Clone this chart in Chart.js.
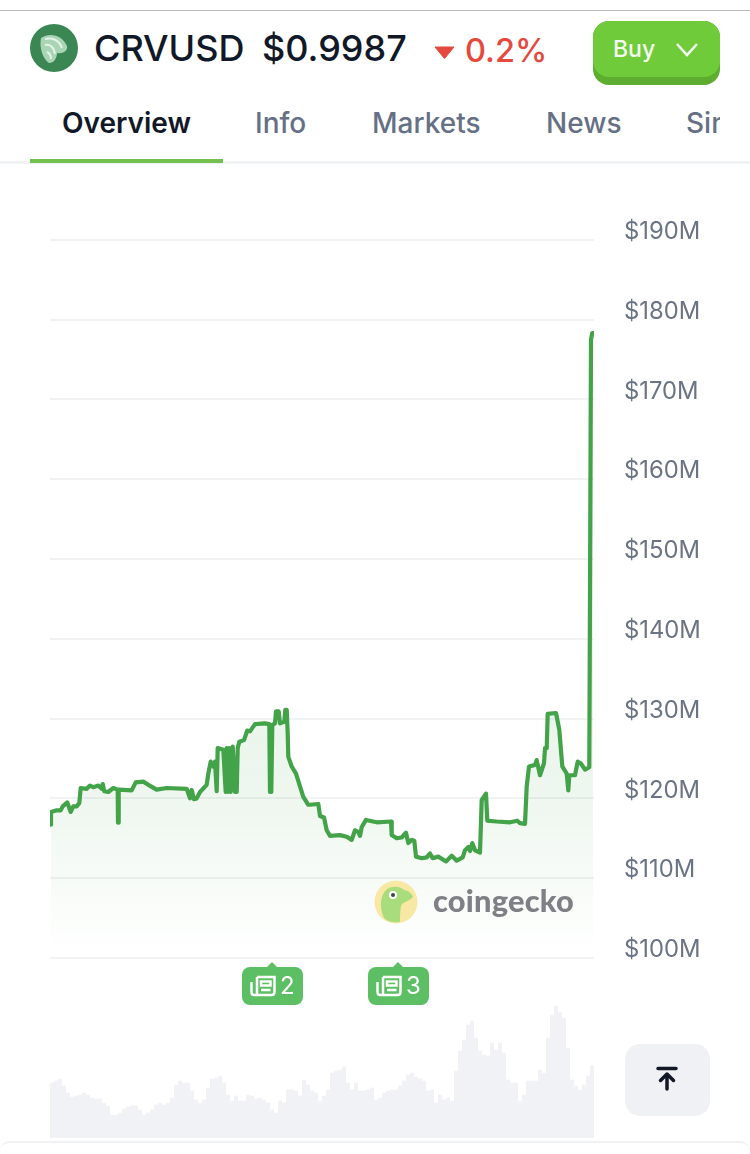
<!DOCTYPE html>
<html>
<head>
<meta charset="utf-8">
<script src="https://cdn.jsdelivr.net/npm/chart.js@4"></script>
<style>
  html, body { margin: 0; padding: 0; background: #fff; }
  body { width: 750px; height: 1154px; overflow: hidden; position: relative; font-family: Inter, "Noto Sans", sans-serif; }
  .abs { position: absolute; white-space: nowrap; }
  #market { position: absolute; left: 0; top: 0; }
  .tab { position: absolute; top: 105px; font-size: 28px; line-height: 36px; font-weight: 500; color: #667085; }
  .news { position: absolute; top: 967px; height: 38px; width: 61px; background: #5cbf64; border-radius: 8px; color: #fff; font-size: 24px; line-height: 38px; }
  .news::before { content: ""; position: absolute; left: 25px; top: -5px; border-left: 5px solid transparent; border-right: 5px solid transparent; border-bottom: 5px solid #5cbf64; }
  .news svg { position: absolute; left: 8px; top: 8px; }
  .news span { position: absolute; left: 38px; top: 0; }
</style>
</head>
<body>
<div class="abs" style="left:0;top:10px;width:750px;height:1px;background:#b9b9bb"></div>

<svg class="abs" style="left:30px;top:24px" width="48" height="48" viewBox="0 0 48 48">
  <circle cx="24" cy="24" r="24" fill="#3b8753"/>
  <path d="M11 14 C20 8 32 11 37 22 C38 27 33 30 27 29 C27 34 24 39 19 39 C13 35 9 24 11 14 Z" fill="#a9d5b5"/>
  <path d="M15 15 C22 13 29 16 32 24 M15 21 C20 20 24 23 25 30 M17 28 C19 29 21 31 21 35" fill="none" stroke="#e4f3e8" stroke-width="2"/>
</svg>
<div class="abs" style="left:94px;top:27px;font-size:36px;line-height:42px;font-weight:500;color:#111827">CRVUSD</div>
<div class="abs" style="left:262px;top:27px;font-size:36px;line-height:42px;font-weight:500;color:#111827">$0.9987</div>
<svg class="abs" style="left:434px;top:46px" width="21" height="13" viewBox="0 0 21 13"><path d="M1 1 H20 L11 12 Q10.500 12.600 10 12 Z" fill="#e5493d" stroke="#e5493d" stroke-linejoin="round"/></svg>
<div class="abs" style="left:465px;top:31px;font-size:32.5px;line-height:40px;font-weight:500;color:#e5493d">0.2%</div>

<div class="abs" style="left:593px;top:21px;width:127px;height:64px;border-radius:16px;background:#5dad30"></div>
<div class="abs" style="left:593px;top:21px;width:127px;height:56px;border-radius:16px;background:#70cb3a"></div>
<div class="abs" style="left:613px;top:33px;font-size:23px;line-height:32px;font-weight:500;color:#f4fbf0">Buy</div>
<svg class="abs" style="left:675px;top:42px" width="24" height="16" viewBox="0 0 24 16"><path d="M2 2 L12 13 L22 2" fill="none" stroke="#f4fbf0" stroke-width="2.600"/></svg>

<div class="abs" style="left:0;top:161px;width:750px;height:3px;background:#f1f2f4"></div>
<div class="abs" style="left:30px;top:159px;width:193px;height:4px;background:#74c04e"></div>
<div class="tab" style="left:62px;color:#111827;font-weight:600">Overview</div>
<div class="tab" style="left:255px">Info</div>
<div class="tab" style="left:372px">Markets</div>
<div class="tab" style="left:546px">News</div>
<div class="tab" style="left:686px;width:34px;overflow:hidden">Simi</div>

<div class="abs" style="left:0;top:1141px;width:750px;height:14px;border-top:2px solid #f0f1f3;border-radius:10px 10px 0 0;box-sizing:border-box"></div>

<canvas id="market" width="750" height="1154"></canvas>

<svg class="abs" style="left:374px;top:880px" width="44" height="44" viewBox="0 0 44 44">
  <circle cx="22" cy="22" r="21.500" fill="#f8e8a4"/>
  <path d="M10 38 C5 27 6 15 13 9 C20 5 27 7 30 10 C35 11 38 14 39 17 C34 22 28 22 27 26 C26 31 26 36 26 42 C20 43 14 42 10 38 Z" fill="#a9dc7c"/>
  <circle cx="19" cy="15" r="4" fill="#fff"/><circle cx="19" cy="15" r="2" fill="#3d4a3d"/>
</svg>
<div class="abs" style="left:433px;top:882px;font-family:Lato,Inter,sans-serif;font-size:30.8px;line-height:38px;font-weight:900;letter-spacing:.2px;color:#7d8085">coingecko</div>

<div class="news" style="left:242px">
  <svg width="26" height="22" viewBox="0 0 26 22"><path d="M7 2 H24.500 V17 Q24.500 20 21.500 20 H4 Q1.500 20 1.500 17 V7 M7 2 V20 M11 6.500 H20.500 V10.500 H11 Z M11 15 H20.500" fill="none" stroke="#fff" stroke-width="2.500"/></svg>
  <span>2</span>
</div>
<div class="news" style="left:368px">
  <svg width="26" height="22" viewBox="0 0 26 22"><path d="M7 2 H24.500 V17 Q24.500 20 21.500 20 H4 Q1.500 20 1.500 17 V7 M7 2 V20 M11 6.500 H20.500 V10.500 H11 Z M11 15 H20.500" fill="none" stroke="#fff" stroke-width="2.500"/></svg>
  <span>3</span>
</div>

<div class="abs" style="left:625px;top:1044px;width:85px;height:72px;border-radius:15px;background:#f0f1f5"></div>
<svg class="abs" style="left:655px;top:1066px" width="24" height="28" viewBox="0 0 24 28"><path d="M3 2.500 H21 M12 23 V8.500 M5.500 14.500 L12 8 L18.500 14.500" fill="none" stroke="#111827" stroke-width="3.500" stroke-linecap="round" stroke-linejoin="round"/></svg>

<script>
// Market cap of crvUSD, in $M, against hours since the start of the window.
const capHours = [
  1, 1, 6.7, 10.7, 12.7, 17.3, 20.7, 23.3, 26.7, 29.3, 30.7, 36.7, 40, 43.3, 48.3, 51.7, 52.7, 54.3, 58.3, 63.3,
  67.7, 68, 68.7, 81.7, 85.7, 93.3, 98.3, 106.7, 116.7, 136.7, 140, 141.7, 144, 146.7, 150, 156.7, 158.3, 160.7, 163.3, 165,
  166.7, 167.7, 173.3, 175.7, 176.7, 177.7, 179.3, 180.7, 182.7, 185, 186.7, 187.7, 189.3, 194, 197.3, 200, 205, 215, 219.3, 220,
  221.3, 222.3, 225, 226, 228.7, 230, 234.3, 235.3, 236.7, 237.7, 238.3, 241.7, 246, 250, 253.3, 258.3, 260, 268.3, 270, 274,
  276.7, 280, 290, 296.7, 301.7, 305, 308.3, 310, 311.7, 316, 326.7, 341, 341.7, 346.7, 351.7, 356, 358.3, 361.7, 364.3, 366,
  371.7, 376.7, 380, 382.7, 388.3, 396, 401.7, 406.7, 412.7, 415, 418.3, 420, 422.3, 425, 430, 431.7, 436, 437.3, 446.7, 460,
  467.3, 470, 475, 476.7, 479, 485, 486.7, 490, 494, 495, 496.7, 497.7, 506, 509.3, 512.3, 516.7, 518.3, 519.3, 525, 527.7,
  530.7, 535, 539.3, 541, 542.2, 543
];
const capValues = [
  116.7, 118.3, 118.5, 118.5, 119, 119.5, 118.3, 119, 119, 119.4, 121.3, 121.2, 121.6, 121.4, 121.6, 121.2, 121.8, 120.9, 120.8, 121.3,
  121.1, 116.95, 121.1, 121, 122, 122.1, 121.7, 121.1, 121.3, 121.2, 120, 121.05, 119.9, 120, 120.8, 121.7, 123.1, 124.6, 124, 124.6,
  120.9, 126.3, 126.1, 120.8, 126.3, 120.8, 126.3, 120.8, 126.5, 120.8, 120.8, 126.3, 127.1, 127.3, 128.5, 128.4, 129.3, 129.4, 129.3, 120.8,
  120.8, 129.2, 129.4, 130.9, 130.9, 129.4, 129.6, 131.1, 131.1, 128.1, 125.2, 124, 123.1, 121.5, 120.2, 119.2, 119.2, 119.3, 117.8, 117.6,
  116, 115.3, 115.4, 115.2, 114.8, 116, 115.8, 115.3, 116.4, 117.3, 117, 117.1, 115.4, 115, 115.1, 115.7, 114.4, 114.8, 114.7, 112.7,
  112.5, 112.6, 113.1, 112.5, 112.7, 112.1, 112.8, 112.2, 112.6, 113.5, 113.9, 113.4, 114.4, 113.5, 113.2, 119.8, 120.6, 117.2, 117.1, 117,
  117.2, 116.9, 116.8, 121.5, 124, 124.2, 124.8, 122.9, 124.4, 126.3, 126.3, 130.6, 130.7, 128.6, 124, 123.1, 121, 122.9, 122.9, 124.6,
  124.4, 123.6, 123.9, 177.5, 178.3, 178.3
];

// Traded volume in $M, one bar for every four hours.
const volumeValues = [
  5.5, 5.7, 5.9, 5.2, 4.5, 4.1, 4.2, 4.3, 4.5, 4.3, 4.0, 3.9, 3.9, 3.5, 3.2, 2.3, 2.3, 2.5, 2.9, 3.1,
  3.2, 3.2, 2.8, 2.3, 2.5, 2.8, 3.3, 3.5, 3.3, 3.5, 4.0, 5.3, 5.7, 5.5, 5.5, 4.7, 3.8, 3.5, 3.8, 5.0,
  5.9, 6.0, 6.2, 5.5, 4.3, 3.7, 4.2, 3.7, 3.7, 4.3, 4.2, 3.9, 4.0, 3.8, 3.5, 2.8, 2.5, 3.7, 3.5, 4.8,
  4.8, 4.7, 4.2, 5.8, 5.3, 4.7, 4.5, 3.7, 4.2, 4.8, 6.5, 6.7, 6.8, 7.1, 5.5, 4.8, 5.5, 4.7, 4.7, 4.8,
  5.0, 3.8, 4.0, 4.5, 4.7, 4.8, 4.8, 5.2, 5.7, 6.3, 6.5, 6.1, 5.9, 5.7, 4.7, 4.8, 3.5, 4.3, 3.8, 4.0,
  3.7, 6.7, 8.7, 9.8, 11.3, 11.7, 10.0, 8.7, 8.3, 8.2, 9.5, 8.8, 9.5, 8.5, 5.8, 5.5, 5.5, 3.7, 4.3, 5.7,
  5.7, 5.7, 6.8, 6.5, 10.0, 12.3, 13.2, 12.6, 12.0, 9.0, 5.8, 5.2, 4.8, 5.3, 6.2, 7.2
];
const volumeHours = volumeValues.map((_, i) => i * 4 + 2);

const tickValues = [100, 110, 120, 130, 140, 150, 160, 170, 180, 190];
const tickPrefix = '$';
const tickSuffix = 'M';

const canvas = document.getElementById('market');
const ctx = canvas.getContext('2d');
const areaFill = ctx.createLinearGradient(0, 700, 0, 958);
areaFill.addColorStop(0, 'rgba(67,163,73,0.11)');
areaFill.addColorStop(0.4, 'rgba(67,163,73,0.085)');
areaFill.addColorStop(1, 'rgba(67,163,73,0)');

new Chart(ctx, {
  data: {
    datasets: [
      {
        type: 'line',
        data: capHours.map((h, i) => ({ x: h, y: capValues[i] })),
        yAxisID: 'y',
        borderColor: '#43a349',
        borderWidth: 4.2,
        borderJoinStyle: 'round',
        borderCapStyle: 'round',
        backgroundColor: areaFill,
        fill: 'origin',
        tension: 0,
        pointRadius: 0,
        order: 1
      },
      {
        type: 'bar',
        data: volumeHours.map((h, i) => ({ x: h, y: volumeValues[i] })),
        yAxisID: 'volume',
        backgroundColor: '#f1f2f6',
        barThickness: 3.2,
        order: 2
      }
    ]
  },
  options: {
    responsive: false,
    animation: false,
    devicePixelRatio: 1,
    layout: { padding: { left: 50, top: 160, right: 0, bottom: 16 } },
    plugins: { legend: { display: false }, tooltip: { enabled: false } },
    scales: {
      x: { type: 'linear', min: 0, max: 544, display: false, offset: false },
      y: {
        position: 'right',
        min: 77.44,
        max: 200,
        afterBuildTicks: axis => { axis.ticks = tickValues.map(value => ({ value })); },
        afterFit: axis => { axis.width = 156; axis.paddingTop = 0; axis.paddingBottom = 0; },
        border: { display: false },
        grid: { color: '#f1f2f4', lineWidth: 2, drawTicks: false },
        ticks: {
          padding: 30,
          labelOffset: -8,
          color: '#6b7484',
          font: { family: 'Inter', size: 23.8 },
          callback: v => tickPrefix + v + tickSuffix
        }
      },
      volume: { display: false, min: 0, max: 97.8 }
    }
  }
});
</script>
</body>
</html>
